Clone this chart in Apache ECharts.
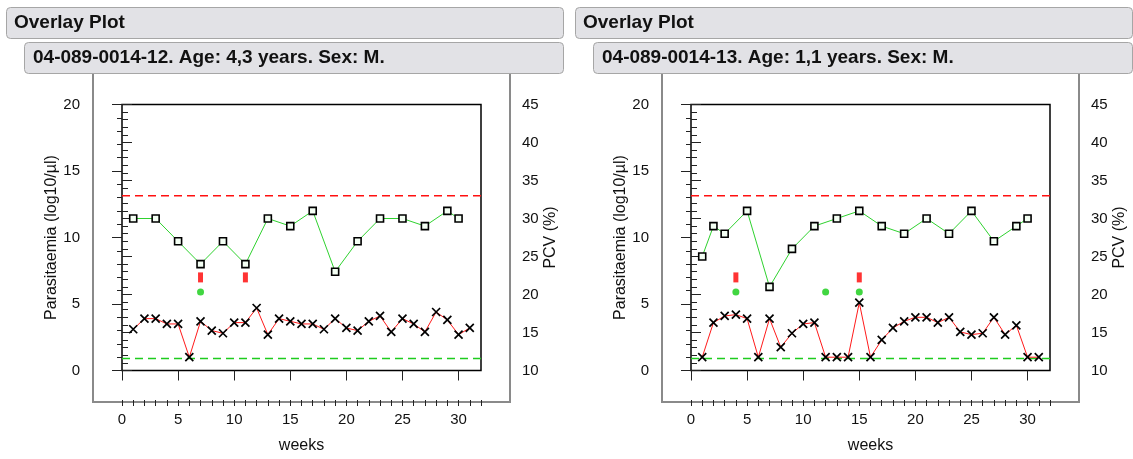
<!DOCTYPE html>
<html>
<head>
<meta charset="utf-8">
<script src="https://cdn.jsdelivr.net/npm/echarts@6/dist/echarts.min.js"></script>
<style>
html,body{margin:0;padding:0;background:#fff;}
#c{width:1133px;height:459px;}
</style>
</head>
<body>
<div id="c"></div>
<script>
// ---------- data ----------
var panelTitles = ['Overlay Plot', 'Overlay Plot'];
var panelSubtitles = ['04-089-0014-12. Age: 4,3 years. Sex: M.', '04-089-0014-13. Age: 1,1 years. Sex: M.'];

var weeksPara = [1,2,3,4,5,6,7,8,9,10,11,12,13,14,15,16,17,18,19,20,21,22,23,24,25,26,27,28,29,30,31];

var leftPcvWeeks = [1,3,5,7,9,11,13,15,17,19,21,23,25,27,29,30];
var leftPcv      = [30,30,27,24,27,24,30,29,31,23,27,30,30,29,31,30];
var leftPara     = [3.1,3.9,3.9,3.5,3.5,1.0,3.7,3.0,2.8,3.6,3.6,4.7,2.7,3.9,3.7,3.5,3.5,3.1,3.9,3.2,3.0,3.7,4.1,2.9,3.9,3.5,2.9,4.4,3.8,2.7,3.2];
var leftBarWeeks = [7,11];
var leftDotWeeks = [7];

var rightPcvWeeks = [1,2,3,5,7,9,11,13,15,17,19,21,23,25,27,29,30];
var rightPcv      = [25,29,28,31,21,26,29,30,31,29,28,30,28,31,27,29,30];
var rightPara     = [1.0,3.6,4.1,4.2,3.9,1.0,3.9,1.75,2.8,3.5,3.6,1.0,1.0,1.0,5.1,1.0,2.3,3.2,3.7,4.0,4.0,3.6,4.0,2.9,2.7,2.8,4.0,2.7,3.4,1.0,1.0];
var rightBarWeeks = [4,15];
var rightDotWeeks = [4,12,15];

var barLevel = 7;        // parasitaemia-axis level of red event marks
var dotLevel = 5.9;      // parasitaemia-axis level of green event dots
var pcvThreshold = 33;   // red dashed line (PCV axis)
var paraThreshold = 0.9; // green dashed line (parasitaemia axis)

var weekMin = 0, weekMax = 32;
var xMajorTicks = [0,5,10,15,20,25,30];

// ---------- chart ----------
var FONT = 'Liberation Sans, Arial, Helvetica, sans-serif';
var chart = echarts.init(document.getElementById('c'), null, {renderer:'canvas'});

var panels = [
  {pcvW: leftPcvWeeks, pcv: leftPcv, para: leftPara, bars: leftBarWeeks, dots: leftDotWeeks},
  {pcvW: rightPcvWeeks, pcv: rightPcv, para: rightPara, bars: rightBarWeeks, dots: rightDotWeeks}
];
var SHIFT = 569;

var grids = [], xAxes = [], yAxes = [], series = [], graphics = [];

panels.forEach(function(p, i){
  var dx = i * SHIFT;
  grids.push({left: 122 + dx, width: 359, top: 104.5, height: 268, show: true,
    borderColor: '#000', borderWidth: 1.5, backgroundColor: 'transparent'});

  // major x axis
  xAxes.push({type:'value', gridIndex:i, min:weekMin, max:weekMax, interval:5, position:'bottom', offset:29.5,
    axisLine:{show:false},
    axisTick:{show:true, length:10, customValues: xMajorTicks, lineStyle:{color:'#222', width:1}},
    axisLabel:{customValues: xMajorTicks, margin:12, color:'#111', fontSize:15, fontFamily:FONT},
    splitLine:{show:false},
    name:'weeks', nameLocation:'middle', nameGap:38,
    nameTextStyle:{color:'#111', fontSize:16, fontFamily:FONT}});
  // minor x axis
  xAxes.push({type:'value', gridIndex:i, min:weekMin, max:weekMax, interval:1, position:'bottom', offset:29.5,
    axisLine:{show:false},
    axisTick:{show:true, length:6, lineStyle:{color:'#222', width:1}},
    axisLabel:{show:false}, splitLine:{show:false}});

  // left y (parasitaemia)
  yAxes.push({type:'value', gridIndex:i, min:0, max:20, interval:5, position:'left', offset:29,
    axisLine:{show:false},
    axisTick:{show:true, length:10, lineStyle:{color:'#222', width:1}},
    minorTick:{show:true, splitNumber:5, length:5, lineStyle:{color:'#222', width:1}},
    axisLabel:{margin:13, color:'#111', fontSize:15, fontFamily:FONT},
    splitLine:{show:false},
    name:'Parasitaemia (log10/µl)', nameLocation:'middle', nameGap:31,
    nameTextStyle:{color:'#111', fontSize:16, fontFamily:FONT}});
  // right y (PCV)
  yAxes.push({type:'value', gridIndex:i, min:10, max:45, interval:5, position:'right', offset:29,
    axisLine:{show:false},
    axisTick:{show:true, length:10, lineStyle:{color:'#222', width:1}},
    minorTick:{show:true, splitNumber:5, length:6, lineStyle:{color:'#222', width:1}},
    axisLabel:{margin:12, color:'#111', fontSize:15, fontFamily:FONT},
    splitLine:{show:false},
    name:'PCV (%)', nameLocation:'middle', nameGap:33,
    nameTextStyle:{color:'#111', fontSize:16, fontFamily:FONT}});

  var xMaj = i*2, yL = i*2, yR = i*2+1;

  // threshold lines (dashed)
  series.push({type:'line', xAxisIndex:xMaj, yAxisIndex:yR, z:2, symbol:'none',
    data:[[weekMin, pcvThreshold],[weekMax, pcvThreshold]],
    lineStyle:{color:'#ff1010', type:[8,5], width:1.5}, itemStyle:{color:'#ff1010'},
    animation:false, silent:true});
  series.push({type:'line', xAxisIndex:xMaj, yAxisIndex:yL, z:2, symbol:'none',
    data:[[weekMin, paraThreshold],[weekMax, paraThreshold]],
    lineStyle:{color:'#1ecc1e', type:[8,5], width:1.5}, itemStyle:{color:'#1ecc1e'},
    animation:false, silent:true});

  // PCV series
  series.push({type:'line', xAxisIndex:xMaj, yAxisIndex:yR, z:4,
    data: p.pcvW.map(function(w,k){return [w, p.pcv[k]];}),
    symbol:'rect', symbolSize:7, showAllSymbol:true,
    lineStyle:{color:'#2fd22f', width:1},
    itemStyle:{color:'#f4fff4', borderColor:'#000', borderWidth:1.6},
    animation:false, silent:true});
  // Parasitaemia series
  series.push({type:'line', xAxisIndex:xMaj, yAxisIndex:yL, z:5,
    data: weeksPara.map(function(w,k){return [w, p.para[k]];}),
    symbol:'path://M0,0L10,10M10,0L0,10', symbolSize:8, showAllSymbol:true,
    lineStyle:{color:'#ff1a1a', width:1},
    itemStyle:{color:'none', borderColor:'#000', borderWidth:1.7},
    animation:false, silent:true});
  // red event bars
  series.push({type:'scatter', xAxisIndex:xMaj, yAxisIndex:yL, z:5,
    data: p.bars.map(function(w){return [w, barLevel];}),
    symbol:'rect', symbolSize:[5,10], itemStyle:{color:'#ff0000'}, animation:false, silent:true});
  // green event dots
  series.push({type:'scatter', xAxisIndex:xMaj, yAxisIndex:yL, z:5,
    data: p.dots.map(function(w){return [w, dotLevel];}),
    symbol:'circle', symbolSize:7, itemStyle:{color:'#11cc11'}, animation:false, silent:true});

  // decorations: headers and gray axis frame
  graphics.push({type:'rect', shape:{x:6.5+dx, y:7.5, width:557, height:31, r:4},
    style:{fill:'#e2e2e6', stroke:'#a6a6a6', lineWidth:1}});
  graphics.push({type:'text', x:14+dx, y:23, style:{text:panelTitles[i], fill:'#111',
    font:'bold 19px ' + FONT, textVerticalAlign:'middle'}});
  graphics.push({type:'rect', shape:{x:24.5+dx, y:42.5, width:539, height:31, r:4},
    style:{fill:'#e2e2e6', stroke:'#a6a6a6', lineWidth:1}});
  graphics.push({type:'text', x:33+dx, y:58, style:{text:panelSubtitles[i], fill:'#111',
    font:'bold 19px ' + FONT, textVerticalAlign:'middle'}});
  graphics.push({type:'polyline', shape:{points:[[93+dx,74],[93+dx,402],[510+dx,402],[510+dx,74]]},
    style:{stroke:'#8a8a8a', lineWidth:2, fill:null}});
});

chart.setOption({
  animation:false,
  backgroundColor:'#fff',
  grid: grids,
  xAxis: xAxes,
  yAxis: yAxes,
  series: series,
  graphic: graphics
});
</script>
</body>
</html>
